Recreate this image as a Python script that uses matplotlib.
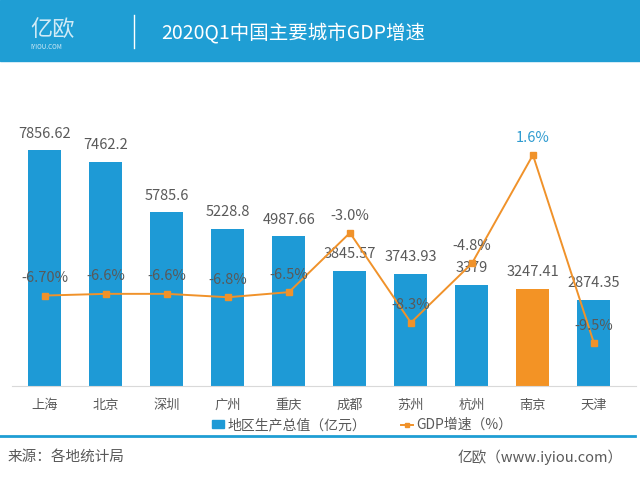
import matplotlib.pyplot as plt
from matplotlib.lines import Line2D
from matplotlib.patches import Patch

plt.rcParams['font.family'] = ['Noto Sans CJK SC', 'DejaVu Sans']
plt.rcParams['font.weight'] = 'light'

# data
cities = ['上海', '北京', '深圳', '广州', '重庆', '成都', '苏州', '杭州', '南京', '天津']
gdp = [7856.62, 7462.2, 5785.6, 5228.8, 4987.66, 3845.57, 3743.93, 3379, 3247.41, 2874.35]
gdp_labels = ['7856.62', '7462.2', '5785.6', '5228.8', '4987.66', '3845.57', '3743.93', '3379', '3247.41', '2874.35']
growth = [-6.7, -6.6, -6.6, -6.8, -6.5, -3.0, -8.3, -4.8, 1.6, -9.5]
growth_labels = ['-6.70%', '-6.6%', '-6.6%', '-6.8%', '-6.5%', '-3.0%', '-8.3%', '-4.8%', '1.6%', '-9.5%']

blue = '#1e9ad6'
orange = '#f39325'
line_orange = '#f0922a'
gray = '#595959'

fig = plt.figure(figsize=(6.4, 4.78), dpi=100)

# header bar
fig.patches.append(plt.Rectangle((0, 1 - 61 / 478), 1, 61 / 478, transform=fig.transFigure,
                                 color='#1f9ed4', zorder=0))
fig.text(30 / 640, 1 - 29 / 478, '亿欧', color='white', fontsize=16, va='center', alpha=0.8)
fig.text(30 / 640, 1 - 47 / 478, 'IYIOU.COM', color='white', fontsize=4.5, va='center', alpha=0.8)
fig.add_artist(Line2D([134 / 640, 134 / 640], [1 - 15 / 478, 1 - 48 / 478], color='white', lw=1))
fig.text(161 / 640, 1 - 33 / 478, '2020Q1中国主要城市GDP增速', color='white', fontsize=14,
         fontweight='normal', va='center')

ax = fig.add_axes([12 / 640, 92 / 478, 624 / 640, 300 / 478])
x = list(range(len(cities)))
colors = [orange if c == '南京' else blue for c in cities]
ax.bar(x, gdp, width=0.54, color=colors, zorder=2)
for i, v in enumerate(gdp):
    ax.annotate(gdp_labels[i], (i, v), xytext=(0, 12), textcoords='offset points',
                ha='center', va='center', fontsize=10.5, color=gray, zorder=5)
ax.set_xlim(-0.54, 9.69)
ax.set_ylim(0, 10000)
ax.set_yticks([])
for s in ['top', 'right', 'left']:
    ax.spines[s].set_visible(False)
ax.spines['bottom'].set_color('#d9d9d9')
ax.set_xticks(x)
ax.set_xticklabels(cities, fontsize=9.5, color=gray)
ax.tick_params(axis='x', length=0, pad=9)

ax2 = ax.twinx()
ax2.plot(x, growth, color=line_orange, lw=1.4, marker='s', markersize=4, zorder=3)
ax2.set_ylim(-12.04, 5.67)
ax2.set_yticks([])
for s in ax2.spines.values():
    s.set_visible(False)
for i, v in enumerate(growth):
    c = '#2e9bd0' if v > 0 else gray
    ax2.annotate(growth_labels[i], (i, v), xytext=(0, 12.5), textcoords='offset points',
                 ha='center', va='center', fontsize=10.5, color=c, zorder=5)

# legend
handles = [Patch(color=blue, label='地区生产总值（亿元）'),
           Line2D([], [], color=line_orange, marker='s', markersize=3.5, lw=1.4, label='GDP增速（%）')]
fig.legend(handles=handles, loc='center', bbox_to_anchor=(362 / 640, 1 - 425 / 478), ncol=2, frameon=False,
           fontsize=10, handlelength=0.9, handleheight=0.5, handletextpad=0.2, columnspacing=2.5,
           labelcolor=gray)

# footer
fig.add_artist(Line2D([0, 635 / 640], [1 - 436 / 478, 1 - 436 / 478], color='#1f9ed4', lw=2))
fig.text(8 / 640, 1 - 457 / 478, '来源：各地统计局', fontsize=10.5, color=gray, va='center')
fig.text(623 / 640, 1 - 457 / 478, '亿欧（www.iyiou.com）', fontsize=10.5, color=gray, va='center', ha='right')

fig.savefig('out.png', dpi=100)
